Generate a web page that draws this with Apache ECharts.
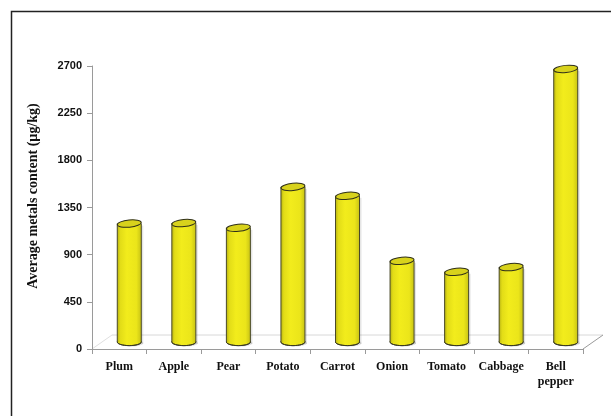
<!DOCTYPE html>
<html><head><meta charset="utf-8">
<script src="https://cdn.jsdelivr.net/npm/echarts@6/dist/echarts.min.js"></script>
<style>html,body{margin:0;padding:0;background:#fff}#c{width:611px;height:416px}</style>
</head><body><div id="c"></div>
<script>
const categories = ['Plum','Apple','Pear','Potato','Carrot','Onion','Tomato','Cabbage','Bell\npepper'];
const values = [1130, 1135, 1090, 1480, 1395, 775, 670, 715, 2605];
const yTicks = {min: 0, max: 2700, interval: 450};
const yTitle = 'Average metals content (µg/kg)';

const chart = echarts.init(document.getElementById('c'), null, {renderer: 'canvas'});
const DX = 10, DY = -7, HALF = 12, RY = 3.6;
const bodyGrad = () => new echarts.graphic.LinearGradient(0,0,1,0,[
  {offset:0,color:'#b9b413'},{offset:0.12,color:'#e2dc17'},{offset:0.4,color:'#f2ec1c'},
  {offset:0.8,color:'#ebe51a'},{offset:1,color:'#c8c315'}]);

function renderItem(params, api){
  const i = api.value(0), v = api.value(1);
  const pTop = api.coord([i, v]);
  const pBot = api.coord([i, 0]);
  const cx = pTop[0] + DX, top = pTop[1] + DY, bot = pBot[1] + DY;
  return {type:'group', children:[
    {type:'ellipse', shape:{cx:cx+2, cy:bot+1, rx:HALF, ry:RY}, style:{fill:'rgba(0,0,0,0.12)'}},
    {type:'rect', shape:{x:cx+HALF-1, y:top+2, width:3, height:bot-top}, style:{fill:'rgba(0,0,0,0.10)'}},
    {type:'ellipse', shape:{cx:cx, cy:bot, rx:HALF, ry:RY}, style:{fill:bodyGrad(), stroke:'#3a3a20', lineWidth:1}},
    {type:'rect', shape:{x:cx-HALF, y:top, width:HALF*2, height:bot-top}, style:{fill:bodyGrad()}},
    {type:'line', shape:{x1:cx-HALF, y1:top, x2:cx-HALF, y2:bot}, style:{stroke:'#4a4a2a', lineWidth:1}},
    {type:'line', shape:{x1:cx+HALF, y1:top, x2:cx+HALF, y2:bot}, style:{stroke:'#4a4a2a', lineWidth:1}},
    {type:'ellipse', shape:{cx:cx, cy:top, rx:HALF, ry:RY}, rotation:0.1, originX:cx, originY:top,
     style:{fill:'#d8d21c', stroke:'#2e2e1a', lineWidth:1}}
  ]};
}

const option = {
  animation:false,
  backgroundColor:'#ffffff',
  grid:{left:92, right:28, top:66, bottom:67, containLabel:false},
  xAxis:{type:'category', data:categories, boundaryGap:true,
    axisLine:{lineStyle:{color:'#9a9a9a', width:1}},
    axisTick:{show:true, length:5, lineStyle:{color:'#9a9a9a'}},
    axisLabel:{color:'#111', fontFamily:'Liberation Serif', fontWeight:'bold', fontSize:12, margin:10, lineHeight:15, interval:0}},
  yAxis:{type:'value', min:yTicks.min, max:yTicks.max, interval:yTicks.interval,
    axisLine:{show:true, lineStyle:{color:'#9a9a9a', width:1}},
    axisTick:{show:true, length:5, lineStyle:{color:'#9a9a9a'}},
    splitLine:{show:false},
    axisLabel:{color:'#111', fontFamily:'Liberation Sans', fontWeight:'bold', fontSize:11, margin:10, formatter:(v)=>String(v)}},
  series:[{type:'custom', renderItem, data: values.map((v,i)=>[i,v]), clip:false}]
};
chart.setOption(option);

const gx0 = 92, gx1 = 611 - 28;
const y0 = chart.convertToPixel({yAxisIndex:0}, 0);
chart.setOption({graphic:[
  {type:'rect', shape:{x:11.5, y:11.5, width:700, height:500}, style:{fill:null, stroke:'#222', lineWidth:1.5}, silent:true},
  {type:'line', shape:{x1:gx0+2*DX, y1:y0+2*DY, x2:gx1+2*DX, y2:y0+2*DY}, style:{stroke:'#d8d8d8', lineWidth:1}, z:-1},
  {type:'line', shape:{x1:gx0, y1:y0, x2:gx0+2*DX, y2:y0+2*DY}, style:{stroke:'#e0e0e0', lineWidth:1}, z:-1},
  {type:'line', shape:{x1:gx1, y1:y0, x2:gx1+2*DX, y2:y0+2*DY}, style:{stroke:'#9a9a9a', lineWidth:1}, z:-1},
  {type:'text', x:33, y:196, rotation:Math.PI/2, style:{text:yTitle, fill:'#111', font:'bold 14px "Liberation Serif"', align:'center', verticalAlign:'middle'}}
]});
</script></body></html>
